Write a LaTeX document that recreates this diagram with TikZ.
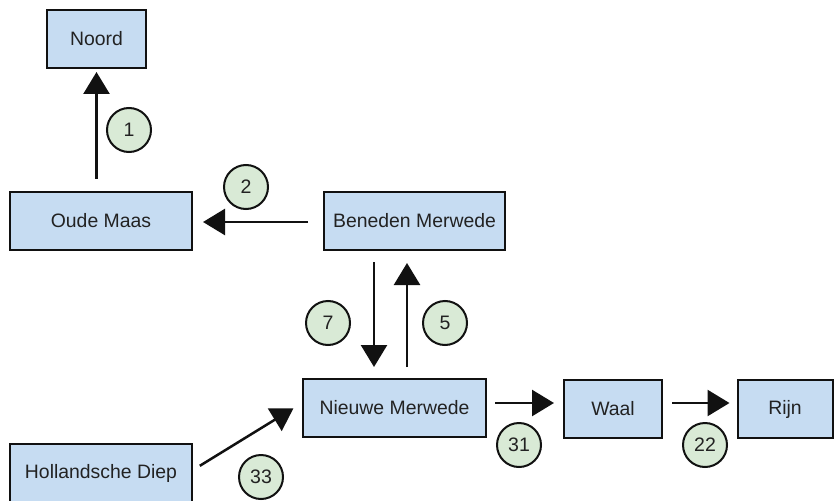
\documentclass[tikz,border=0pt]{standalone}
\usepackage{fontspec}
\setmainfont{Liberation Sans}
\usetikzlibrary{arrows.meta}

\definecolor{boxfill}{HTML}{C6DCF2}
\definecolor{tagfill}{HTML}{D9EAD6}
\definecolor{inkline}{HTML}{111111}
\definecolor{inktext}{HTML}{222222}

\tikzset{
  river/.style={draw=inkline, line width=2pt, fill=boxfill, inner sep=0pt,
    minimum height=58pt, text=inktext, font=\fontsize{19.4}{21}\selectfont},
  flowtag/.style={circle, draw=inkline, line width=2pt, fill=tagfill, inner sep=0pt,
    minimum size=44pt, text=inktext, font=\fontsize{19.5}{21}\selectfont},
  flow/.style={draw=inkline, line width=2.5pt,
    -{Triangle[length=22pt,width=26pt]}}
}

\begin{document}
\begin{tikzpicture}[x=1pt,y=-1pt]
  \useasboundingbox (0,0) rectangle (834,500);
  \clip (0,0) rectangle (834,500);

  % rivers
  \node[river, minimum width=99pt]  (noord)  at (96.5,39)  {Noord};
  \node[river, minimum width=182pt] (oude)   at (101,220.5) {Oude Maas};
  \node[river, minimum width=181pt] (bened)  at (414.5,221) {Beneden Merwede};
  \node[river, minimum width=183pt] (nieuwe) at (394.5,408) {Nieuwe Merwede};
  \node[river, minimum width=98pt]  (waal)   at (613,409)  {Waal};
  \node[river, minimum width=95pt]  (rijn)   at (785,409)  {Rijn};
  \node[river, minimum width=182pt] (hd)     at (101,473)  {Hollandsche Diep};

  % flows between rivers
  \draw[flow, shorten <=12pt, shorten >=3pt] (noord.south |- oude.north) -- (noord.south);
  \draw[flow, shorten <=15pt, shorten >=10pt] ([yshift=-1pt]bened.west) -- ([yshift=-1pt]bened.west -| oude.east);
  \draw[flow, shorten <=11pt, shorten >=11pt] ([xshift=-40.5pt]bened.south) -- ([xshift=-40.5pt]bened.south |- nieuwe.north);
  \draw[flow, shorten <=11pt, shorten >=12pt] ([xshift=-7.5pt]bened.south |- nieuwe.north) -- ([xshift=-7.5pt]bened.south);
  \draw[flow, shorten <=8pt, shorten >=10pt] ([yshift=3pt]hd.east) -- ([yshift=5pt]nieuwe.west);
  \draw[flow, shorten <=8pt, shorten >=9pt] ([yshift=5pt]nieuwe.east) -- ([yshift=5pt]nieuwe.east -| waal.west);
  \draw[flow, shorten <=9pt, shorten >=7pt] ([yshift=5pt]nieuwe.east -| waal.east) -- ([yshift=5pt]nieuwe.east -| rijn.west);

  % flow amounts
  \node[flowtag] (t1)  at (129,130) {1};
  \node[flowtag] (t2)  at (246,187) {2};
  \node[flowtag] (t7)  at (328,323) {7};
  \node[flowtag] (t5)  at (445,323) {5};
  \node[flowtag] (t33) at (261,477) {33};
  \node[flowtag] (t31) at (519,445) {31};
  \node[flowtag] (t22) at (705,445) {22};
\end{tikzpicture}
\end{document}
